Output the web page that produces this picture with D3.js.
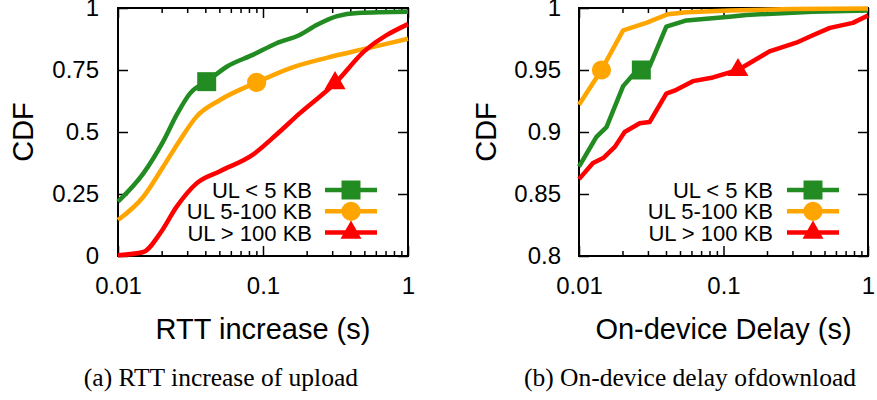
<!DOCTYPE html>
<html>
<head>
<meta charset="utf-8">
<script src="https://cdn.jsdelivr.net/npm/d3@7"></script>
<style>
  body { margin: 0; background: #fff; }
  svg { display: block; }
  .tick text { font-family: "Liberation Sans", Arial, sans-serif; font-size: 24px; fill: #000; }
  .tick line { stroke: #000; stroke-width: 1.5; }
</style>
</head>
<body>
<div id="chart"></div>
<script>
// ---- data ----
var seriesNames = ["UL < 5 KB", "UL 5-100 KB", "UL > 100 KB"];
var seriesColors = ["#228b22", "#ffa500", "#ff0000"];

var xTicks = [0.01, 0.1, 1];
var xTickLabels = ["0.01", "0.1", "1"];

// (a) RTT increase of upload
var rttTicks = [0, 0.25, 0.5, 0.75, 1];
var rttTickLabels = ["0", "0.25", "0.5", "0.75", "1"];
var rttSmall = [[0.01,0.219],[0.01496,0.333],[0.0205,0.462],[0.0257,0.575],[0.0314,0.656],[0.0409,0.703],[0.0562,0.763],[0.0857,0.812],[0.124,0.858],[0.179,0.891],[0.236,0.932],[0.325,0.967],[0.45,0.980],[1,0.985]];
var rttMid = [[0.01,0.145],[0.01496,0.239],[0.0205,0.360],[0.0268,0.468],[0.0348,0.562],[0.0505,0.629],[0.0904,0.700],[0.153,0.757],[0.275,0.799],[0.52,0.837],[1,0.876]];
var rttLarge = [[0.01,0.003],[0.01496,0.016],[0.0195,0.091],[0.0254,0.199],[0.0348,0.293],[0.0505,0.342],[0.0857,0.410],[0.124,0.490],[0.179,0.575],[0.314,0.697],[0.50,0.826],[1,0.935]];
var rttMarkers = [[0.0409,0.703],[0.0904,0.700],[0.314,0.697]];

// (b) On-device delay of download
var delayTicks = [0.8, 0.85, 0.9, 0.95, 1];
var delayTickLabels = ["0.8", "0.85", "0.9", "0.95", "1"];
var delaySmall = [[0.01,0.872],[0.0132,0.896],[0.0155,0.904],[0.0202,0.937],[0.0236,0.946],[0.027,0.950],[0.0308,0.953],[0.0402,0.985],[0.0554,0.990],[0.110,0.993],[0.144,0.9944],[0.415,0.997],[1,0.998]];
var delayMid = [[0.01,0.922],[0.0143,0.950],[0.0202,0.982],[0.0292,0.988],[0.0413,0.995],[0.0554,0.9966],[0.110,0.998],[0.3,0.9992],[1,0.9995]];
var delayLarge = [[0.01,0.862],[0.0125,0.875],[0.0147,0.879],[0.0177,0.888],[0.0207,0.900],[0.0263,0.907],[0.0308,0.908],[0.0402,0.931],[0.0472,0.934],[0.0614,0.941],[0.0846,0.944],[0.126,0.950],[0.208,0.965],[0.319,0.972],[0.415,0.978],[0.545,0.984],[0.786,0.988],[1,0.994]];
var delayMarkers = [[0.027,0.950],[0.0143,0.950],[0.126,0.950]];

var W = 877, H = 400;
var sansFont = '"Liberation Sans", Arial, sans-serif';
var serifFont = '"Liberation Serif", "Times New Roman", serif';

var svg = d3.select("#chart").append("svg")
  .attr("width", W).attr("height", H)
  .style("background", "#fff");

var symbols = [d3.symbolSquare, d3.symbolCircle, d3.symbolTriangle];
var symbolSizes = [360, 290, 190];

function drawPanel(p){
  var x = d3.scaleLog().domain([0.01, 1]).range([p.left, p.right]);
  var y = d3.scaleLinear().domain(p.yDomain).range([256, 8]);
  var g = svg.append("g");

  // minor x ticks top + bottom
  var minor = x.ticks().filter(function(t){ return xTicks.indexOf(t) < 0; });
  g.append("g").attr("transform", "translate(0,256)")
    .call(d3.axisBottom(x).tickValues(minor).tickSize(-5).tickFormat(""))
    .call(function(a){ a.select(".domain").remove(); });
  g.append("g").attr("transform", "translate(0,8)")
    .call(d3.axisTop(x).tickValues(minor).tickSize(-5).tickFormat(""))
    .call(function(a){ a.select(".domain").remove(); });

  // major x ticks
  g.append("g").attr("transform", "translate(0,256)")
    .call(d3.axisBottom(x).tickValues(xTicks).tickSize(-10).tickPadding(21)
      .tickFormat(function(d, i){ return xTickLabels[i]; }))
    .call(function(a){ a.select(".domain").remove(); });
  g.append("g").attr("transform", "translate(0,8)")
    .call(d3.axisTop(x).tickValues(xTicks).tickSize(-10).tickFormat(""))
    .call(function(a){ a.select(".domain").remove(); });

  // y ticks left + right
  g.append("g").attr("transform", "translate(" + p.left + ",0)")
    .call(d3.axisLeft(y).tickValues(p.yTicks).tickSize(-10).tickPadding(p.yPad)
      .tickFormat(function(d, i){ return p.yLabels[i]; }))
    .call(function(a){ a.select(".domain").remove(); });
  g.append("g").attr("transform", "translate(" + p.right + ",0)")
    .call(d3.axisRight(y).tickValues(p.yTicks).tickSize(-10).tickFormat(""))
    .call(function(a){ a.select(".domain").remove(); });

  // frame
  g.append("rect")
    .attr("x", p.left).attr("y", 8)
    .attr("width", p.right - p.left).attr("height", 248)
    .attr("fill", "none").attr("stroke", "#000").attr("stroke-width", 2);

  var line = d3.line()
    .x(function(d){ return x(d[0]); })
    .y(function(d){ return y(d[1]); })
    .curve(p.curve);

  p.series.forEach(function(s, i){
    g.append("path").datum(s)
      .attr("d", line)
      .attr("fill", "none")
      .attr("stroke", seriesColors[i])
      .attr("stroke-width", 4.5)
      .attr("stroke-linejoin", "round");
  });
  p.markers.forEach(function(m, i){
    g.append("path")
      .attr("d", d3.symbol().type(symbols[i]).size(symbolSizes[i]))
      .attr("transform", "translate(" + x(m[0]) + "," + y(m[1]) + ")")
      .attr("fill", seriesColors[i]);
  });

  // legend
  seriesNames.forEach(function(name, i){
    var ly = 190 + i * 21.3;
    g.append("text")
      .attr("x", p.legText).attr("y", ly).attr("dy", "0.36em")
      .attr("text-anchor", "end")
      .style("font-family", sansFont).style("font-size", "22px")
      .text(name);
    g.append("line")
      .attr("x1", p.legLine).attr("x2", p.legLine + 52)
      .attr("y1", ly).attr("y2", ly)
      .attr("stroke", seriesColors[i]).attr("stroke-width", 4.5);
    g.append("path")
      .attr("d", d3.symbol().type(symbols[i]).size(symbolSizes[i]))
      .attr("transform", "translate(" + (p.legLine + 26) + "," + ly + ")")
      .attr("fill", seriesColors[i]);
  });

  // axis titles
  g.append("text")
    .attr("transform", "translate(" + p.cdfX + ",132) rotate(-90)")
    .attr("text-anchor", "middle")
    .style("font-family", sansFont).style("font-size", "29px")
    .text("CDF");
  g.append("text")
    .attr("x", (p.left + p.right) / 2).attr("y", 339)
    .attr("text-anchor", "middle")
    .style("font-family", sansFont).style("font-size", "29px")
    .text(p.xTitle);
  g.append("text")
    .attr("x", p.capEnd).attr("y", 386)
    .attr("text-anchor", "end")
    .style("font-family", serifFont).style("font-size", "25.5px")
    .text(p.caption);
}

drawPanel({
  left: 118, right: 408, yDomain: [0, 1],
  yTicks: rttTicks, yLabels: rttTickLabels, yPad: 19,
  series: [rttSmall, rttMid, rttLarge], markers: rttMarkers,
  curve: d3.curveMonotoneX,
  legText: 312, legLine: 325, cdfX: 33,
  xTitle: "RTT increase (s)", caption: "(a) RTT increase of upload", capEnd: 358
});

drawPanel({
  left: 579, right: 868, yDomain: [0.8, 1],
  yTicks: delayTicks, yLabels: delayTickLabels, yPad: 18,
  series: [delaySmall, delayMid, delayLarge], markers: delayMarkers,
  curve: d3.curveLinear,
  legText: 773, legLine: 787, cdfX: 496,
  xTitle: "On-device Delay (s)", caption: "(b) On-device delay ofdownload", capEnd: 856
});
</script>
</body>
</html>
